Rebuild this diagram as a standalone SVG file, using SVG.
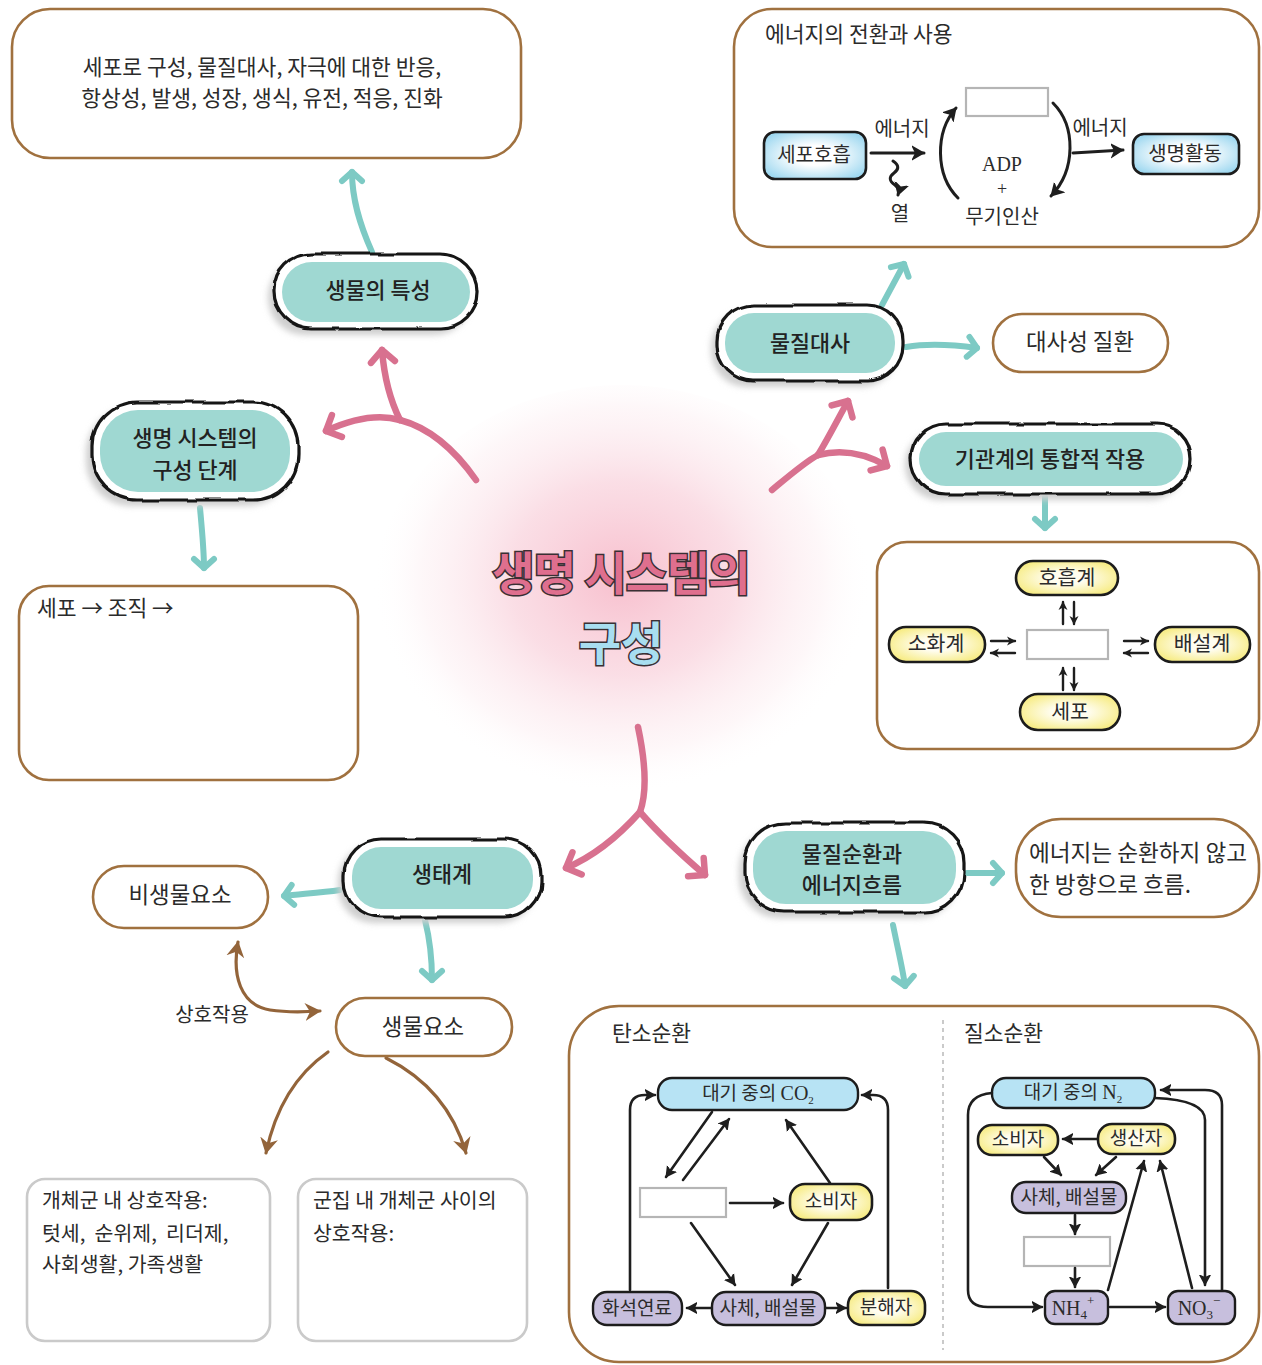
<svg xmlns="http://www.w3.org/2000/svg" width="1262" height="1365" viewBox="0 0 1262 1365">
<style>
  text { font-family: "Noto Sans CJK KR", "Noto Sans", sans-serif; fill: #2b2b2b; }
  .t21 { font-size: 21.5px; }
  .t20 { font-size: 20.5px; }
  .t19 { font-size: 20px; }
  .t18 { font-size: 19px; }
  .t-org { font-size: 20.5px; text-anchor: middle; }
  .mid { text-anchor: middle; }
  .lbl { font-size: 21.8px; font-weight: 500; text-anchor: middle; fill: #222; }
  .blbl { font-size: 22.4px; text-anchor: middle; }
  .serif { font-family: "Liberation Serif", "DejaVu Serif", serif; }
  .box { fill: #fff; stroke: #a0713f; stroke-width: 2.6; }
  .gbox { fill: #fff; stroke: #cacaca; stroke-width: 2.6; }
  .tn-shadow { fill: #cfcfcf; filter: url(#soft); }
  .tn-out { fill: #fff; stroke: #161616; stroke-width: 3.2; }
  .tn-in { fill: #9fd8d2; }
  .teal { fill: none; stroke: #7dcac4; stroke-width: 6; stroke-linecap: round; marker-end: url(#chevT); }
  .pink { fill: none; stroke: #d8718f; stroke-width: 6.5; stroke-linecap: round; }
  .brown { fill: none; stroke: #93643a; stroke-width: 3.2; stroke-linecap: round; }
  .blk { fill: none; stroke: #1e1e1e; stroke-width: 2.6; stroke-linecap: round; stroke-linejoin: round; marker-end: url(#tri); }
  .blkb { fill: none; stroke: #1e1e1e; stroke-width: 3; stroke-linecap: round; stroke-linejoin: round; marker-end: url(#triB); }
  .blks { fill: none; stroke: #1e1e1e; stroke-width: 2.4; stroke-linecap: round; marker-end: url(#triS); }
  .yel { fill: url(#gYel); stroke: #1c1c1c; stroke-width: 2.6; }
  .blu { fill: url(#gBlu); stroke: #1c1c1c; stroke-width: 2.6; }
  .pur { fill: #c7bfdd; stroke: #1c1c1c; stroke-width: 2.4; }
  .co2 { fill: #b7e3f4; stroke: #1c1c1c; stroke-width: 2.4; }
  .blank { fill: #fff; stroke: #b5b5b5; stroke-width: 2.2; }
</style>
<defs>
  <radialGradient id="glow" cx="0.5" cy="0.45" r="0.5">
    <stop offset="0" stop-color="#f7bccb" stop-opacity="0.95"/>
    <stop offset="0.45" stop-color="#f9d3dd" stop-opacity="0.75"/>
    <stop offset="0.8" stop-color="#fcebef" stop-opacity="0.4"/>
    <stop offset="1" stop-color="#ffffff" stop-opacity="0"/>
  </radialGradient>
  <radialGradient id="gYel" cx="0.5" cy="0.5" r="0.6">
    <stop offset="0.3" stop-color="#fffdf0"/>
    <stop offset="1" stop-color="#f6ea7a"/>
  </radialGradient>
  <radialGradient id="gBlu" cx="0.5" cy="0.5" r="0.6">
    <stop offset="0.35" stop-color="#ffffff"/>
    <stop offset="1" stop-color="#9fd8f0"/>
  </radialGradient>
  <filter id="soft" x="-10%" y="-20%" width="120%" height="140%">
    <feGaussianBlur stdDeviation="3"/>
  </filter>
  <filter id="wob" x="-5%" y="-10%" width="110%" height="120%">
    <feTurbulence type="fractalNoise" baseFrequency="0.03" numOctaves="2" seed="4" result="n"/>
    <feDisplacementMap in="SourceGraphic" in2="n" scale="5" xChannelSelector="R" yChannelSelector="G"/>
  </filter>
  <marker id="chevT" markerUnits="userSpaceOnUse" markerWidth="30" markerHeight="30" viewBox="-15 -15 30 30" refX="0" refY="0" orient="auto">
    <path d="M-9,-10 L0,0 L-9,10" fill="none" stroke="#7dcac4" stroke-width="6" stroke-linecap="round" stroke-linejoin="round"/>
  </marker>
  <marker id="chevP" markerUnits="userSpaceOnUse" markerWidth="34" markerHeight="34" viewBox="-17 -17 34 34" refX="0" refY="0" orient="auto">
    <path d="M-12,-12 L0,0 L-12,12" fill="none" stroke="#d8718f" stroke-width="6.5" stroke-linecap="round" stroke-linejoin="round"/>
  </marker>
  <marker id="brw" markerUnits="userSpaceOnUse" markerWidth="30" markerHeight="30" viewBox="-15 -15 30 30" refX="0" refY="0" orient="auto-start-reverse">
    <path d="M-15,-9 L1,0 L-15,9 L-10,0 z" fill="#93643a"/>
  </marker>
  <marker id="tri" markerUnits="userSpaceOnUse" markerWidth="20" markerHeight="20" viewBox="-10 -10 20 20" refX="0" refY="0" orient="auto-start-reverse">
    <path d="M-11,-6.5 L1,0 L-11,6.5 L-8,0 z" fill="#1e1e1e"/>
  </marker>
  <marker id="triB" markerUnits="userSpaceOnUse" markerWidth="24" markerHeight="24" viewBox="-12 -12 24 24" refX="0" refY="0" orient="auto">
    <path d="M-13,-8 L1,0 L-13,8 L-9,0 z" fill="#1e1e1e"/>
  </marker>
  <marker id="triS" markerUnits="userSpaceOnUse" markerWidth="16" markerHeight="16" viewBox="-8 -8 16 16" refX="0" refY="0" orient="auto">
    <path d="M-8,-4.5 L1,0 L-8,4.5 L-5.5,0 z" fill="#1e1e1e"/>
  </marker>
</defs>

<rect width="1262" height="1365" fill="#fff"/>

<!-- central glow and title -->
<g id="center">
  <ellipse cx="622" cy="600" rx="250" ry="215" fill="url(#glow)"/>
  <text x="621" y="590" text-anchor="middle" style="font-size:46px;font-weight:700;fill:#df6f8e;stroke:#3a3034;stroke-width:3;paint-order:stroke;letter-spacing:-1px">생명 시스템의</text>
  <text x="621" y="660" text-anchor="middle" style="font-size:46px;font-weight:700;fill:#a8def0;stroke:#3a3034;stroke-width:3;paint-order:stroke">구성</text>
</g>

<!-- main connectors between the concept nodes -->
<g id="connectors">
  <!-- pink branching arrows from the title -->
  <path class="pink" d="M476,480 C455,450 430,428 400,420"/>
  <path class="pink" d="M400,420 C375,413 350,420 326,431" marker-end="url(#chevP)"/>
  <path class="pink" d="M400,420 C390,400 384,375 382,350" marker-end="url(#chevP)"/>
  <path class="pink" d="M772,490 C790,475 805,462 818,455"/>
  <path class="pink" d="M818,455 C830,435 840,415 848,401" marker-end="url(#chevP)"/>
  <path class="pink" d="M818,455 C845,448 868,455 887,466" marker-end="url(#chevP)"/>
  <path class="pink" d="M638,727 C645,760 648,790 640,812"/>
  <path class="pink" d="M640,812 C615,840 590,858 566,868" marker-end="url(#chevP)"/>
  <path class="pink" d="M640,812 C660,835 684,857 705,875" marker-end="url(#chevP)"/>

  <!-- teal arrows -->
  <path class="teal" d="M372,252 C360,225 352,200 352,172"/>
  <path class="teal" d="M200,508 C202,530 204,550 204,568"/>
  <path class="teal" d="M882,305 C890,290 897,277 904,264"/>
  <path class="teal" d="M906,347 C930,343 955,345 977,348"/>
  <path class="teal" d="M1045,497 L1045,528"/>
  <path class="teal" d="M340,890 C320,893 300,894 284,896"/>
  <path class="teal" d="M425,920 C430,940 432,960 432,980"/>
  <path class="teal" d="M967,873 L1002,873"/>
  <path class="teal" d="M893,925 C898,950 903,970 905,986"/>

  <!-- brown arrows -->
  <path class="brown" d="M238,942 C232,975 240,1005 270,1010 C290,1013 305,1012 320,1011" marker-start="url(#brw)" marker-end="url(#brw)"/>
  <path class="brown" d="M328,1052 C295,1075 275,1110 266,1153" marker-end="url(#brw)"/>
  <path class="brown" d="M386,1058 C430,1080 455,1115 466,1153" marker-end="url(#brw)"/>
</g>

<!-- top-left: characteristics of organisms -->
<g id="traits-box">
  <rect class="box" x="12" y="9" width="509" height="149" rx="38"/>
  <text class="t21 mid" x="262" y="75">세포로 구성, 물질대사, 자극에 대한 반응,</text>
  <text class="t21 mid" x="262" y="106">항상성, 발생, 성장, 생식, 유전, 적응, 진화</text>
</g>

<g id="node-traits">
  <rect class="tn-shadow" x="268" y="260" width="203" height="75" rx="37"/>
  <rect class="tn-out" x="274" y="254" width="203" height="75" rx="37" filter="url(#wob)"/>
  <rect class="tn-in" x="282" y="262" width="188" height="60" rx="30"/>
  <text class="lbl" x="378" y="298">생물의 특성</text>
</g>

<g id="node-levels">
  <rect class="tn-shadow" x="86" y="408" width="206" height="98" rx="45"/>
  <rect class="tn-out" x="92" y="402" width="206" height="98" rx="45" filter="url(#wob)"/>
  <rect class="tn-in" x="100" y="410" width="190" height="82" rx="38"/>
  <text class="lbl" x="195" y="446">생명 시스템의</text>
  <text class="lbl" x="195" y="478">구성 단계</text>
</g>

<g id="levels-box">
  <rect class="box" x="19" y="586" width="339" height="194" rx="30"/>
  <text class="t21" x="37" y="616">세포 → 조직 →</text>
</g>

<!-- energy conversion and use -->
<g id="energy-box">
  <rect class="box" x="734" y="9" width="525" height="238" rx="38"/>
  <text class="t21" x="765" y="42">에너지의 전환과 사용</text>
  <rect class="blu" x="764" y="132" width="102" height="47" rx="11"/>
  <text class="t19 mid" x="814" y="162">세포호흡</text>
  <text class="t19 mid" x="902" y="136">에너지</text>
  <text class="t19 mid" x="900" y="221">열</text>
  <rect class="blank" x="966" y="88" width="82" height="28"/>
  <text class="serif mid" x="1002" y="171" style="font-size:20px">ADP</text>
  <text class="serif mid" x="1002" y="195" style="font-size:18px">+</text>
  <text class="t19 mid" x="1002" y="224">무기인산</text>
  <text class="t19 mid" x="1100" y="135">에너지</text>
  <rect class="blu" x="1133" y="134" width="106" height="40" rx="11"/>
  <text class="t19 mid" x="1185" y="161">생명활동</text>
</g>

<g id="node-metabolism">
  <rect class="tn-shadow" x="711" y="311" width="186" height="76" rx="36"/>
  <rect class="tn-out" x="717" y="305" width="186" height="76" rx="36" filter="url(#wob)"/>
  <rect class="tn-in" x="725" y="313" width="170" height="60" rx="29"/>
  <text class="lbl" x="810" y="351">물질대사</text>
</g>

<g id="disease-box">
  <rect class="box" x="993" y="314" width="175" height="58" rx="29"/>
  <text class="blbl" x="1080" y="350">대사성 질환</text>
</g>

<g id="node-organs">
  <rect class="tn-shadow" x="905" y="430" width="280" height="70" rx="35"/>
  <rect class="tn-out" x="911" y="424" width="280" height="70" rx="35" filter="url(#wob)"/>
  <rect class="tn-in" x="919" y="432" width="264" height="54" rx="27"/>
  <text class="lbl" x="1050" y="467">기관계의 통합적 작용</text>
</g>

<g id="organ-box">
  <rect class="box" x="877" y="542" width="382" height="207" rx="30"/>
  <rect class="yel" x="1016" y="561" width="102" height="34" rx="17"/>
  <text class="t-org" x="1067" y="585">호흡계</text>
  <rect class="yel" x="889" y="627" width="96" height="35" rx="17"/>
  <text class="t-org" x="936" y="651">소화계</text>
  <rect class="blank" x="1027" y="630" width="81" height="29"/>
  <rect class="yel" x="1155" y="627" width="95" height="35" rx="17"/>
  <text class="t-org" x="1202" y="651">배설계</text>
  <rect class="yel" x="1020" y="694" width="100" height="36" rx="18"/>
  <text class="t-org" x="1070" y="719">세포</text>
</g>

<!-- ecosystem -->
<g id="node-ecosystem">
  <rect class="tn-shadow" x="338" y="845" width="197" height="78" rx="36"/>
  <rect class="tn-out" x="344" y="839" width="197" height="78" rx="36" filter="url(#wob)"/>
  <rect class="tn-in" x="352" y="847" width="181" height="62" rx="29"/>
  <text class="lbl" x="442" y="882">생태계</text>
</g>

<g id="abiotic">
  <rect class="box" x="93" y="866" width="175" height="62" rx="31"/>
  <text class="blbl" x="180" y="903">비생물요소</text>
</g>

<g id="biotic">
  <rect class="box" x="336" y="998" width="176" height="58" rx="29"/>
  <text class="blbl" x="423" y="1035">생물요소</text>
</g>

<text class="t19 mid" x="212" y="1022">상호작용</text>

<g id="population-box">
  <rect class="gbox" x="27" y="1179" width="243" height="162" rx="18"/>
  <text class="t20" x="42" y="1208">개체군 내 상호작용:</text>
  <text class="t20" x="42" y="1241" xml:space="preserve">텃세,  순위제,  리더제,</text>
  <text class="t20" x="42" y="1272">사회생활, 가족생활</text>
</g>

<g id="community-box">
  <rect class="gbox" x="298" y="1179" width="229" height="162" rx="18"/>
  <text class="t20" x="313" y="1208">군집 내 개체군 사이의</text>
  <text class="t20" x="313" y="1241">상호작용:</text>
</g>

<!-- matter cycles and energy flow -->
<g id="node-cycles">
  <rect class="tn-shadow" x="739" y="829" width="219" height="89" rx="40"/>
  <rect class="tn-out" x="745" y="823" width="219" height="89" rx="40" filter="url(#wob)"/>
  <rect class="tn-in" x="753" y="831" width="203" height="73" rx="33"/>
  <text class="lbl" x="852" y="862">물질순환과</text>
  <text class="lbl" x="852" y="893">에너지흐름</text>
</g>

<g id="energy-flow-box">
  <rect class="box" x="1016" y="819" width="243" height="98" rx="45"/>
  <text x="1029" y="861" style="font-size:22.6px">에너지는 순환하지 않고</text>
  <text x="1029" y="893" style="font-size:22.6px">한 방향으로 흐름.</text>
</g>

<g id="cycle-box">
  <rect class="box" x="569" y="1006" width="690" height="356" rx="50"/>
  <line x1="943" y1="1020" x2="943" y2="1350" stroke="#bdbdbd" stroke-width="1.6" stroke-dasharray="4 4"/>
  <text class="t21" x="612" y="1041">탄소순환</text>
  <text class="t21" x="964" y="1041">질소순환</text>
</g>

<g id="carbon-cycle">
  <rect class="co2" x="658" y="1078" width="200" height="32" rx="14"/>
  <text class="t18 mid" x="758" y="1100">대기 중의 <tspan class="serif" style="font-size:20px">CO</tspan><tspan class="serif" style="font-size:11px" dy="4">2</tspan></text>
  <rect class="blank" x="640" y="1188" width="86" height="29"/>
  <rect class="yel" x="790" y="1184" width="82" height="36" rx="15"/>
  <text class="t18 mid" x="831" y="1208">소비자</text>
  <rect class="pur" x="593" y="1292" width="89" height="33" rx="14"/>
  <text class="t18 mid" x="637" y="1315">화석연료</text>
  <rect class="pur" x="712" y="1292" width="113" height="33" rx="14"/>
  <text class="t18 mid" x="768" y="1315">사체, 배설물</text>
  <rect class="yel" x="848" y="1291" width="77" height="34" rx="14"/>
  <text class="t18 mid" x="886" y="1314">분해자</text>
</g>

<g id="nitrogen-cycle">
  <rect class="co2" x="992" y="1078" width="163" height="30" rx="14"/>
  <text class="t18 mid" x="1073" y="1099">대기 중의 <tspan class="serif" style="font-size:20px">N</tspan><tspan class="serif" style="font-size:11px" dy="4">2</tspan></text>
  <rect class="yel" x="978" y="1125" width="80" height="30" rx="14"/>
  <text class="t18 mid" x="1018" y="1146">소비자</text>
  <rect class="yel" x="1098" y="1124" width="77" height="30" rx="14"/>
  <text class="t18 mid" x="1136" y="1145">생산자</text>
  <rect class="pur" x="1012" y="1182" width="114" height="31" rx="14"/>
  <text class="t18 mid" x="1069" y="1204">사체, 배설물</text>
  <rect class="blank" x="1024" y="1237" width="86" height="29"/>
  <rect class="pur" x="1045" y="1291" width="63" height="33" rx="10"/>
  <text class="serif mid" x="1073" y="1315" style="font-size:20px">NH<tspan style="font-size:13px" dy="4">4</tspan><tspan style="font-size:13px" dy="-14">+</tspan></text>
  <rect class="pur" x="1168" y="1291" width="67" height="33" rx="10"/>
  <text class="serif mid" x="1199" y="1315" style="font-size:20px">NO<tspan style="font-size:13px" dy="4">3</tspan><tspan style="font-size:13px" dy="-14">−</tspan></text>
</g>

<!-- connectors inside the detail boxes (drawn above the box fills) -->
<g id="inner-connectors">
  <!-- energy conversion -->
  <path class="blkb" d="M871,153 L924,153"/>
  <path class="blkb" d="M893,161 q9,6 1,12 q-8,6 1,12 q5,4 3,10"/>
  <path class="blkb" d="M958,198 C935,175 935,132 956,108"/>
  <path class="blkb" d="M1053,103 C1076,126 1076,170 1051,196"/>
  <path class="blkb" d="M1073,153 L1123,150"/>

  <!-- organ systems -->
  <path class="blks" d="M1063,624 L1063,602"/>
  <path class="blks" d="M1074,602 L1074,624"/>
  <path class="blks" d="M1063,690 L1063,668"/>
  <path class="blks" d="M1074,668 L1074,690"/>
  <path class="blks" d="M991,641 L1015,641"/>
  <path class="blks" d="M1015,653 L991,653"/>
  <path class="blks" d="M1124,641 L1148,641"/>
  <path class="blks" d="M1148,653 L1124,653"/>

  <!-- carbon cycle -->
  <path class="blk" d="M630,1290 L630,1110 Q630,1095 645,1095 L655,1095"/>
  <path class="blk" d="M888,1288 L888,1110 Q888,1095 873,1095 L862,1095"/>
  <path class="blk" d="M712,1112 L666,1177"/>
  <path class="blk" d="M683,1180 L729,1119"/>
  <path class="blk" d="M830,1183 L786,1120"/>
  <path class="blk" d="M730,1203 L783,1203"/>
  <path class="blk" d="M691,1223 L735,1285"/>
  <path class="blk" d="M828,1223 L792,1285"/>
  <path class="blk" d="M711,1308 L687,1308"/>
  <path class="blk" d="M826,1308 L846,1308"/>

  <!-- nitrogen cycle -->
  <path class="blk" d="M1097,1139 L1063,1139"/>
  <path class="blk" d="M1044,1157 L1061,1175"/>
  <path class="blk" d="M1116,1157 L1096,1175"/>
  <path class="blk" d="M1075,1215 L1075,1234"/>
  <path class="blk" d="M1075,1268 L1075,1287"/>
  <path class="blk" d="M992,1093 Q968,1095 968,1115 L968,1290 Q968,1307 988,1307 L1042,1307"/>
  <path class="blk" d="M1110,1307 L1165,1307"/>
  <path class="blk" d="M1108,1290 L1144,1161"/>
  <path class="blk" d="M1192,1288 L1160,1161"/>
  <path class="blk" d="M1155,1098 Q1205,1100 1205,1120 L1205,1285"/>
  <path class="blk" d="M1222,1290 L1222,1105 Q1222,1090 1205,1090 L1161,1090"/>
</g>
</svg>
